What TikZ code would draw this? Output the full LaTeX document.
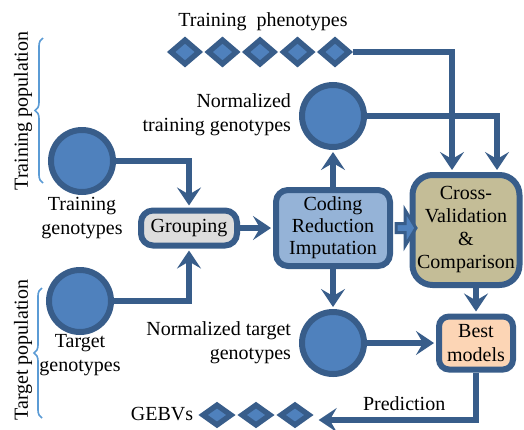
\documentclass[tikz,border=0pt]{standalone}
\usepackage{fontspec}
\setmainfont{Liberation Serif}
\usetikzlibrary{arrows.meta,shapes.geometric,decorations.pathreplacing}

\definecolor{edgeblue}{RGB}{56,93,138}
\definecolor{dotblue}{RGB}{79,129,189}
\definecolor{codeblue}{RGB}{149,179,215}
\definecolor{groupgray}{RGB}{221,221,221}
\definecolor{cvkhaki}{RGB}{196,189,151}
\definecolor{bestpeach}{RGB}{252,213,181}
\definecolor{braceblue}{RGB}{91,155,213}

\begin{document}
\begin{tikzpicture}[x=0.5pt, y=-0.5pt,
    >={Stealth[length=9pt, width=12pt, inset=3.5pt]},
    geno/.style={circle, draw=edgeblue, fill=dotblue, line width=3pt, minimum size=31pt, inner sep=0pt},
    gem/.style={diamond, draw=edgeblue, fill=dotblue, line width=2.7pt, minimum width=15pt, minimum height=13pt, inner sep=0pt},
    box/.style={draw=edgeblue, line width=3pt, rounded corners=6pt, align=center, inner sep=1pt},
    flow/.style={->, draw=edgeblue, line width=3pt, shorten >=1pt},
    popbrace/.style={draw=braceblue, line width=0.8pt, decorate, decoration={brace, amplitude=4pt}}]

    \useasboundingbox (0,0) rectangle (524,429);

    % --- Population braces ---
    \draw[popbrace] (43,183) -- (43,38);
    \node[rotate=90] (trpop) at (23,111) {Training population};
    \draw[popbrace] (42,418) -- (42,288);
    \node[rotate=90] (tgpop) at (23,350) {Target population};

    % --- Input genotypes ---
    \node[geno] (trgeno) at (82,161) {};
    \node[align=center] (trlbl) at (82,218) {Training\\genotypes};
    \node[geno] (tggeno) at (80,301) {};
    \node[align=center] (tglbl) at (80,355) {Target\\genotypes};

    % --- Grouping and coding ---
    \node[box, fill=groupgray, minimum width=48pt, minimum height=17.5pt] (group) at (189,228) {Grouping};
    \node[box, fill=codeblue, minimum width=57pt, minimum height=38pt,
          font=\fontsize{10}{11}\selectfont] (coding) at (333,228) {Coding\\Reduction\\Imputation};

    % --- Normalized genotypes ---
    \node[geno] (normtr) at (333,116) {};
    \node[align=right, anchor=east] (normtrlbl) at (298,115) {Normalized\\training genotypes};
    \node[geno] (normtg) at (333,343) {};
    \node[align=right, anchor=east] (normtglbl) at (298,343) {Normalized target\\genotypes};

    % --- Training phenotypes ---
    \node (phlbl) at (263,22) {Training~ phenotypes};
    \foreach \i in {1,...,5}
        \node[gem] (ph\i) at ({147.5+37.5*\i},52) {};

    % --- Cross-validation and best models ---
    \node[box, fill=cvkhaki, rounded corners=10pt, minimum width=53.5pt, minimum height=55pt,
          font=\fontsize{10}{11.5}\selectfont] (cv) at (466,230) {Cross-\\Validation\\\&\\Comparison};
    \node[box, fill=bestpeach, rounded corners=5pt, minimum width=37pt, minimum height=26.5pt] (best) at (476,343) {Best\\models};

    % --- GEBVs ---
    \node (gblbl) at (162,414) {GEBVs};
    \foreach \i in {1,2,3}
        \node[gem, minimum height=11pt] (gb\i) at ({178+39*\i},415) {};

    % --- Connectors ---
    \draw[flow] (trgeno) -| (group);
    \draw[flow] (tggeno) -| (group);
    \draw[flow] (group.east) -- (group.east -| coding.west);
    \draw[flow] (coding) -- (normtr);
    \draw[flow] (coding) -- (normtg);
    \draw[flow] (ph5) -| ([xshift=-7pt]cv.north);
    \draw[flow] (normtr) -| ([xshift=15.5pt]cv.north);
    \draw[flow] (cv.south -| best.north) -- (best.north);
    \draw[flow] (normtg) -- (best);
    \draw[flow, shorten >=3pt] (best.south) |- ([yshift=-2.5pt]gb3.east)
        node[pos=0.72, above=0pt] (pred) {Prediction};

    % --- Block arrow into cross-validation ---
    \draw[draw=edgeblue, fill=dotblue, line width=1.5pt]
        ([xshift=1.5pt]coding.east) ++(0,-4.5) -- ++(9,0) -- ++(0,-13.5)
        -- ++(11,18) -- ++(-11,18) -- ++(0,-13.5) -- ++(-9,0) -- cycle;
\end{tikzpicture}
\end{document}
